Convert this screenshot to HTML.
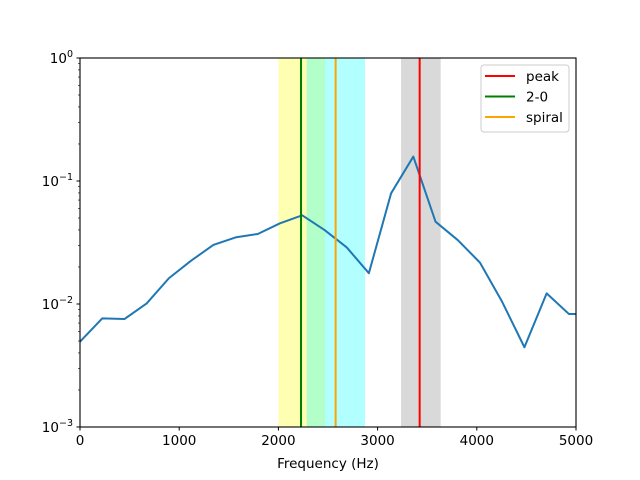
<!DOCTYPE html>
<html><head><meta charset="utf-8"><style>
body{margin:0;background:#fff}
svg{display:block;font-family:"DejaVu Sans","Liberation Sans",sans-serif}
</style></head><body>
<svg id="chart" width="640" height="480" xmlns="http://www.w3.org/2000/svg">
<rect width="640" height="480" fill="#fff"/>
<defs><clipPath id="clip"><rect x="80" y="58" width="496" height="369"/></clipPath></defs>
<g id="bands" clip-path="url(#clip)"></g>
<g id="lines" clip-path="url(#clip)"></g>
<g id="axes"></g>
<g>
<rect x="481" y="65" width="88" height="67" rx="3" fill="#fff" fill-opacity="0.8" stroke="#ccc"/>
<line x1="485" x2="515" y1="76" y2="76" stroke="#ff0000" stroke-width="2"/>
<text x="526" y="81" font-size="13.5">peak</text>
<line x1="485" x2="515" y1="96.5" y2="96.5" stroke="#008000" stroke-width="2"/>
<text x="526" y="101.5" font-size="13.5">2-0</text>
<line x1="485" x2="515" y1="117" y2="117" stroke="#ffa500" stroke-width="2"/>
<text x="526" y="122" font-size="13.5">spiral</text>
</g>
<text x="328" y="468" font-size="13.5" text-anchor="middle">Frequency (Hz)</text>
</svg>
<script>
const freqStep = 224;
const values = [0.00494,0.00764,0.00755,0.0101,0.0162,0.0225,0.0302,0.0348,0.0371,0.0453,0.0526,0.040,0.0289,0.0178,0.0794,0.158,0.0467,0.0331,0.0217,0.0104,0.00445,0.0122,0.0083,0.0083];
const bandStarts = [2000,2285,3236];
const bandEnds = [2470,2873,3636];
const bandColors = ['#ffff00','#00ffff','#808080'];
const bandNames = ['band-2-0','band-spiral','band-peak'];
const vlineFreqs = [3424,2228,2577];
const vlineColors = ['#ff0000','#008000','#ffa500'];
const vlineNames = ['peak-line','line-2-0','spiral-line'];
const xTicks = [0,1000,2000,3000,4000,5000];
const yExps = [0,-1,-2,-3];

const NS='http://www.w3.org/2000/svg';
const X0=80,X1=576,Y0=427,Y1=58;
const xs=f=>X0+(f/5000)*(X1-X0);
const ys=v=>Y1+(-Math.log10(v))/3*(Y0-Y1);
function mk(t,a,p){const e=document.createElementNS(NS,t);for(const k in a)e.setAttribute(k,a[k]);p.appendChild(e);return e;}
const bands=document.getElementById('bands'),lines=document.getElementById('lines'),axes=document.getElementById('axes');
bandStarts.forEach((s,i)=>{
 const r=mk('rect',{x:xs(s),y:Y1,width:xs(bandEnds[i])-xs(s),height:Y0-Y1,fill:bandColors[i],'fill-opacity':0.3},bands);
 
 
});
let d='';
values.forEach((v,i)=>{d+=(i?'L':'M')+xs(i*freqStep).toFixed(2)+','+ys(v).toFixed(2);});
const p=mk('path',{d:d,fill:'none',stroke:'#1f77b4','stroke-width':2,'stroke-linejoin':'round'},lines);


vlineFreqs.forEach((f,i)=>{
 const l=mk('line',{x1:xs(f),x2:xs(f),y1:Y1,y2:Y0,stroke:vlineColors[i],'stroke-width':2},lines);
 
 
});
const fr=mk('rect',{x:X0,y:Y1,width:X1-X0,height:Y0-Y1,fill:'none',stroke:'#000','stroke-width':1.1},axes);


xTicks.forEach(t=>{
 const x=xs(t);
 mk('line',{x1:x,x2:x,y1:Y0,y2:Y0+3.5,stroke:'#000'},axes);
 const tx=mk('text',{x:x,y:Y0+18,'font-size':13.5,'text-anchor':'middle'},axes);
 tx.textContent=t;
 
 
});
yExps.forEach(e=>{
 const y=ys(Math.pow(10,e));
 mk('line',{x1:X0-3.5,x2:X0,y1:y,y2:y,stroke:'#000'},axes);
 const tx=mk('text',{x:X0-7,y:y+5,'font-size':13.5,'text-anchor':'end'},axes);
 tx.innerHTML='10<tspan dy="-6" font-size="9.5">'+(e<0?'\u2212'+(-e):e)+'</tspan>';
 
 
 if(e>-3){for(let m=2;m<10;m++){const yy=ys(m*Math.pow(10,e-1));mk('line',{x1:X0-2,x2:X0,y1:yy,y2:yy,stroke:'#000','stroke-width':0.6},axes);}}
});
</script>
</body></html>
